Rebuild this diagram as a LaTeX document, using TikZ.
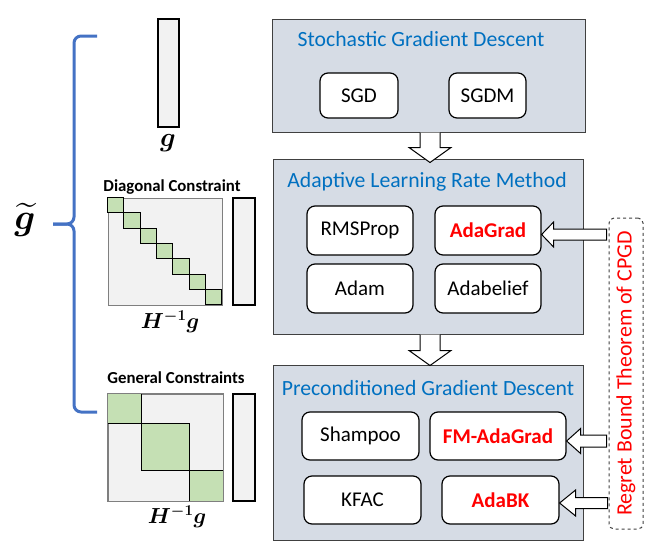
\documentclass[tikz,border=0pt]{standalone}
\usepackage{amsmath}
\usepackage{fontspec}
\setmainfont{Carlito}
\usetikzlibrary{calc}
\definecolor{panelfill}{HTML}{D6DCE5}
\definecolor{paneldraw}{HTML}{404040}
\definecolor{titleblue}{HTML}{0070C0}
\definecolor{redtxt}{HTML}{FF0000}
\definecolor{greenfill}{HTML}{C5E0B4}
\definecolor{lightfill}{HTML}{F2F2F2}
\definecolor{bracecol}{HTML}{4472C4}
\definecolor{matdraw}{HTML}{7F7F7F}
\tikzset{
  panel/.style={draw=paneldraw, line width=1pt, fill=panelfill, inner sep=0pt},
  ptitle/.style={text=titleblue, font=\fontsize{21.7}{26}\selectfont, inner sep=0pt},
  algbox/.style={draw=black, line width=1.2pt, fill=white, rounded corners=8pt, inner sep=0pt,
     font=\fontsize{21}{25}\selectfont},
  redbox/.style={algbox, text=redtxt, font=\fontsize{21}{25}\selectfont\bfseries},
  blockarrow/.style={draw=black, line width=1pt, fill=white, line join=miter},
  vecbox/.style={draw=black, line width=2.4pt, fill=lightfill, inner sep=0pt},
  matbox/.style={draw=matdraw, line width=1pt, fill=lightfill, inner sep=0pt},
  greenblk/.style={draw=black, line width=0.8pt, fill=greenfill},
  smalllbl/.style={font=\fontsize{16.8}{20}\selectfont\bfseries, inner sep=0pt},
  mathlbl/.style={inner sep=0pt, font=\fontsize{20.74}{25}\selectfont},
  bracepath/.style={draw=bracecol, line width=3pt, rounded corners=7pt},
}
\begin{document}
\begin{tikzpicture}[x=1pt, y=-1pt]
\useasboundingbox (0,0) rectangle (650,546);

% panels
\node[panel, minimum width=313, minimum height=113] (p1) at (428.5,75.5) {};
\node[panel, minimum width=310, minimum height=175] (p2) at (428,246.5) {};
\node[panel, minimum width=310, minimum height=175] (p3) at (428,452.5) {};

\node[ptitle] (t1) at (421,39) {Stochastic Gradient Descent};
\node[ptitle] (t2) at (427,182) {Adaptive Learning Rate Method};
\node[ptitle] (t3) at (428,388) {Preconditioned Gradient Descent};

% algorithm boxes
\node[algbox, minimum width=78, minimum height=45] (sgd) at (359,95.5) {SGD};
\node[algbox, minimum width=77, minimum height=45] (sgdm) at (487.5,95.5) {SGDM};
\node[algbox, minimum width=106, minimum height=49] (rms) at (360,230.5) {RMSProp};
\node[redbox, minimum width=106, minimum height=49] (ag) at (488,230.5) {AdaGrad};
\node[algbox, minimum width=106, minimum height=49] (adam) at (360,288.5) {Adam};
\node[algbox, minimum width=106, minimum height=49] (ab) at (488,288.5) {Adabelief};
\node[algbox, minimum width=117, minimum height=48] (sh) at (360.5,436) {Shampoo};
\node[redbox, minimum width=136, minimum height=48] (fm) at (498,436) {FM-AdaGrad};
\node[algbox, minimum width=117, minimum height=48] (kf) at (362.5,500) {KFAC};
\node[redbox, minimum width=117, minimum height=48] (bk) at (500.5,500) {AdaBK};

% down block arrows
\draw[blockarrow] ($(p1.south)+(-8.5,0)$) -- ++(0,15) -- ++(-11,0) -- ++(21,15) -- ++(21,-15) -- ++(-11,0) -- ++(0,-15);
\draw[blockarrow] ($(p2.south)+(-8,0)$) -- ++(0,16) -- ++(-11,0) -- ++(21,15) -- ++(21,-15) -- ++(-11,0) -- ++(0,-16);

% regret bound box
\node[draw=paneldraw, dashed, line width=1pt, rounded corners=5pt, minimum width=34, minimum height=311, inner sep=0pt] (reg) at (626,373.5) {};
\node[rotate=90, text=redtxt, font=\fontsize{21.9}{26}\selectfont, inner sep=0pt] (regt) at (reg.center) {Regret Bound Theorem of CPGD};

% horizontal block arrows
\coordinate (agtip) at ($(ag.east)+(0,4)$);
\coordinate (fmtip) at ($(fm.east)+(0,5)$);
\coordinate (bktip) at ($(bk.east)+(0,3)$);
\draw[blockarrow] (agtip) -- ++(12,-12.5) -- ++(0,7) -- ($(reg.west |- agtip)+(-2,-5.5)$) -- ++(0,11) -- ($(agtip)+(12,5.5)$) -- ++(0,7) -- cycle;
\draw[blockarrow] (fmtip) -- ++(14,-12.5) -- ++(0,6.5) -- ($(reg.west |- fmtip)+(-2,-6)$) -- ++(0,12) -- ($(fmtip)+(14,6)$) -- ++(0,6.5) -- cycle;
\draw[blockarrow] (bktip) -- ++(16,-13) -- ++(0,7.5) -- ($(reg.west |- bktip)+(-1,-5.5)$) -- ++(0,11) -- ($(bktip)+(16,5.5)$) -- ++(0,7.5) -- cycle;

% left: vectors and matrices
\node[vecbox, minimum width=21, minimum height=108] (v1) at (168.5,73) {};
\node[mathlbl, scale=1.3] (gl) at (168,143) {$\boldsymbol{g}$};

\node[smalllbl] (dc) at (172,187) {Diagonal Constraint};
\node[matbox, minimum width=114, minimum height=107] (m1) at (165,251.5) {};
\foreach \i in {0,...,6} {
  \draw[greenblk] ($(m1.north west)+(\i*16.286,\i*15.286)$) rectangle ++(16.286,15.286);
}
\node[vecbox, minimum width=22, minimum height=107] (v2) at (244,251.5) {};
\node[mathlbl, scale=1.05] (hl1) at (170,322) {$\boldsymbol{H^{-1}g}$};

\node[smalllbl] (gc) at (176,378) {General Constraints};
\node[matbox, minimum width=115, minimum height=107] (m2) at (165.5,447.5) {};
\draw[greenblk] (m2.north west) rectangle ++(34,30);
\draw[greenblk] ($(m2.north west)+(34,30)$) rectangle ++(48,47);
\draw[greenblk] ($(m2.north west)+(82,77)$) rectangle (m2.south east);
\draw[matdraw, line width=1pt] (m2.north west) rectangle (m2.south east);
\node[vecbox, minimum width=22, minimum height=107] (v3) at (244,447.5) {};
\node[mathlbl, scale=1.05] (hl2) at (177,517) {$\boldsymbol{H^{-1}g}$};

% brace
\coordinate (btop) at (97,36);
\coordinate (btip) at (53,224);
\coordinate (bbot) at (97,412);
\draw[bracepath] (btop) -- (74,36) -- (74,224) -- (btip);
\draw[bracepath] (btip) -- (74,224) -- (74,412) -- (bbot);
\node[mathlbl, scale=1.75] (gt) at (25,220) {$\boldsymbol{\widetilde{g}}$};
\end{tikzpicture}
\end{document}
